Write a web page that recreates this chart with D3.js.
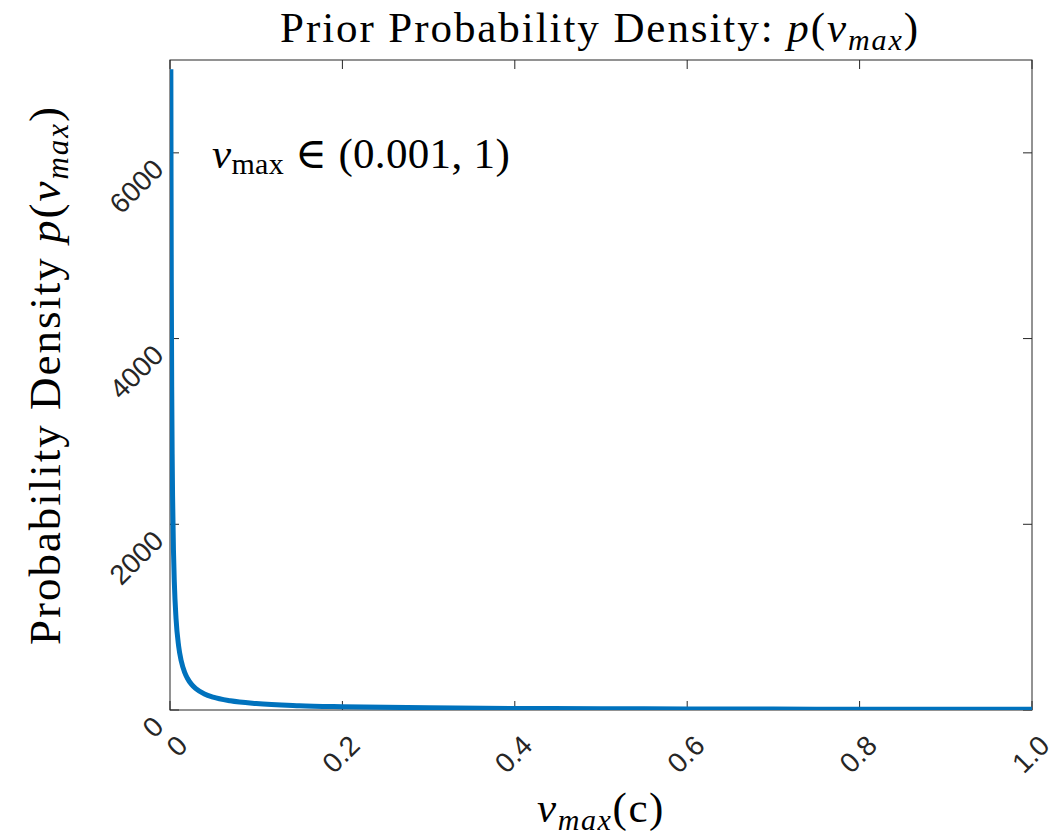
<!DOCTYPE html>
<html><head><meta charset="utf-8">
<script src="https://cdn.jsdelivr.net/npm/d3@7"></script>
<style>body{margin:0;background:#fff}</style>
</head><body>
<svg id="c" width="1063" height="835"></svg>
<script>
const vValues = [0.001,0.0012,0.0015,0.002,0.0025,0.003,0.004,0.005,0.007,0.01,0.013,0.017,0.02,0.025,0.03,0.04,0.05,0.07,0.1,0.15,0.2,0.3,0.4,0.5,0.6,0.7,0.8,0.9,1.0];
const pValues = [6900,5750,4600,3450,2760,2300,1725,1380,985,690,530,405,345,276,230,172,138,99,69,46,35,23,17,14,11.5,10,8.6,7.7,6.9];
const xTicks = [0,0.2,0.4,0.6,0.8,1.0];
const xTickLabels = ["0","0.2","0.4","0.6","0.8","1.0"];
const yTicks = [0,2000,4000,6000];

const svg = d3.select("#c");
const L=170,R=1032,T=60,B=710;
const x = d3.scaleLinear().domain([0,1]).range([L,R]);
const y = d3.scaleLinear().domain([0,7000]).range([B,T]);

svg.append("defs").append("clipPath").attr("id","clip").append("rect")
  .attr("x",L).attr("y",T-5).attr("width",R-L).attr("height",B-T+5);

// box
svg.append("rect").attr("x",L).attr("y",T).attr("width",R-L).attr("height",B-T)
  .attr("fill","none").attr("stroke","#262626").attr("stroke-width",1);

// ticks
const tk=9;
xTicks.forEach(t=>{
  svg.append("line").attr("x1",x(t)).attr("x2",x(t)).attr("y1",B).attr("y2",B-tk).attr("stroke","#262626");
  svg.append("line").attr("x1",x(t)).attr("x2",x(t)).attr("y1",T).attr("y2",T+tk).attr("stroke","#262626");
});
yTicks.forEach(t=>{
  svg.append("line").attr("x1",L).attr("x2",L+tk).attr("y1",y(t)).attr("y2",y(t)).attr("stroke","#262626");
  svg.append("line").attr("x1",R).attr("x2",R-tk).attr("y1",y(t)).attr("y2",y(t)).attr("stroke","#262626");
});

const tickFont = "'Liberation Sans', Arial, sans-serif";
xTicks.forEach((t,i)=>{
  svg.append("text").attr("transform",`translate(${x(t)+14},${B+32}) rotate(-45)`)
    .attr("text-anchor","end").attr("dominant-baseline","middle")
    .attr("font-family",tickFont).attr("font-size",28).attr("fill","#262626")
    .text(xTickLabels[i]);
});
yTicks.forEach(t=>{
  svg.append("text").attr("transform",`translate(${L-10},${y(t)+13}) rotate(-45)`)
    .attr("text-anchor","end").attr("dominant-baseline","middle")
    .attr("font-family",tickFont).attr("font-size",28).attr("fill","#262626")
    .text(d3.format("d")(t));
});

// curve
const data = vValues.map((v,i)=>[v,pValues[i]]);
svg.append("path").datum(data).attr("clip-path","url(#clip)")
  .attr("fill","none").attr("stroke","#0072BD").attr("stroke-width",5)
  .attr("stroke-linejoin","round")
  .attr("d",d3.line().x(d=>x(d[0])).y(d=>y(d[1])).curve(d3.curveMonotoneX));

const serif = "'Liberation Serif','DejaVu Serif',serif";
function fit(sel, target){
  const w = sel.node().getComputedTextLength();
  const n = sel.text().length;
  sel.attr("letter-spacing", ((target-w)/n).toFixed(2));
}
// title
const title = svg.append("text").attr("x",600).attr("y",42).attr("text-anchor","middle")
  .attr("font-family",serif).attr("font-size",43).attr("fill","#000");
title.append("tspan").text("Prior Probability Density: ");
title.append("tspan").attr("font-style","italic").text("p");
title.append("tspan").text("(");
title.append("tspan").attr("font-style","italic").text("v");
title.append("tspan").attr("font-style","italic").attr("font-size",30).attr("dy",8).text("max");
title.append("tspan").attr("dy",-8).text(")");
fit(title,640);

// y label
const yl = svg.append("text").attr("transform","translate(60,375) rotate(-90)").attr("text-anchor","middle")
  .attr("font-family",serif).attr("font-size",45).attr("fill","#000");
yl.append("tspan").text("Probability Density ");
yl.append("tspan").attr("font-style","italic").text("p");
yl.append("tspan").text("(");
yl.append("tspan").attr("font-style","italic").text("v");
yl.append("tspan").attr("font-style","italic").attr("font-size",31).attr("dy",8).text("max");
yl.append("tspan").attr("dy",-8).text(")");
fit(yl,540);

// x label
const xl = svg.append("text").attr("x",601).attr("y",822).attr("text-anchor","middle")
  .attr("font-family",serif).attr("font-size",43).attr("fill","#000");
xl.append("tspan").attr("font-style","italic").text("v");
xl.append("tspan").attr("font-style","italic").attr("font-size",30).attr("dy",8).text("max");
xl.append("tspan").attr("dy",-8).text("(c)");
fit(xl,128);

// annotation
const an = svg.append("text").attr("x",212).attr("y",168)
  .attr("font-family",serif).attr("font-size",43).attr("fill","#000");
an.append("tspan").attr("font-style","italic").text("v");
an.append("tspan").attr("font-size",30).attr("dy",6).text("max");
an.append("tspan").attr("dy",-6).text(" ∈ (0.001, 1)");
fit(an,298);
</script>
</body></html>
